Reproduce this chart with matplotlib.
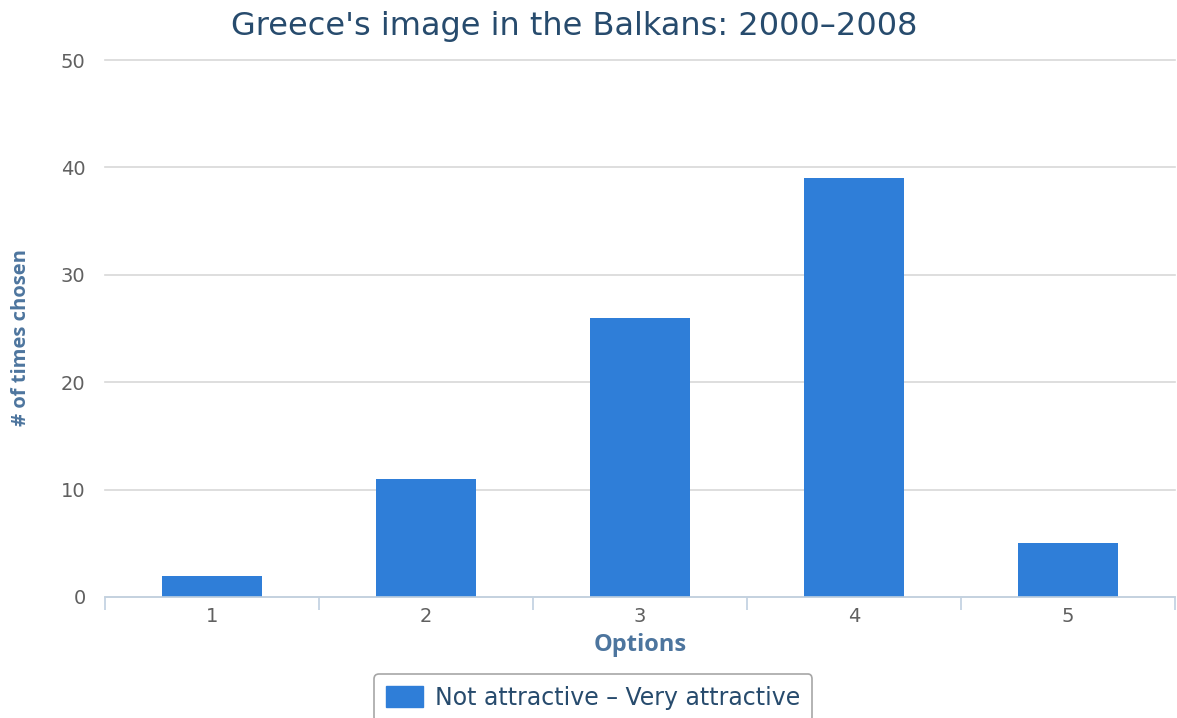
import numpy as np
import matplotlib.pyplot as plt
from matplotlib.patches import Patch

options = ['1', '2', '3', '4', '5']
counts = [2, 11, 26, 39, 5]
series_name = 'Not attractive \u2013 Very attractive'
title = "Greece's image in the Balkans: 2000\u20132008"

BAR_COLOR = '#2f7ed8'
TITLE_COLOR = '#274b6d'
LABEL_COLOR = '#4d759e'
AXIS_COLOR = '#c0d0e0'

plt.rcParams['font.family'] = ['DejaVu Sans']

fig = plt.figure(figsize=(11.77, 7.18), dpi=100)
ax = fig.add_axes([105/1177, 1 - 597/718, 1070/1177, (597 - 60)/718])

x = np.arange(len(options))
ax.bar(x, counts, width=0.465, color=BAR_COLOR, zorder=3)

ax.set_xlim(-0.5, len(options) - 0.5)
ax.set_ylim(0, 50)
ax.set_yticks(np.arange(0, 51, 10))
ax.yaxis.grid(True, color='#d8d8d8', linewidth=1.2, zorder=0)
for gl in ax.get_ygridlines():
    gl.set_clip_on(False)
ax.tick_params(axis='y', length=0, pad=14, labelsize=14, labelcolor='#606060')

# category labels sit at the centres, tick marks at the boundaries
ax.set_xticks(x)
ax.set_xticklabels(options)
ax.tick_params(axis='x', which='major', length=0, pad=7, labelsize=14, labelcolor='#606060')
ax.set_xticks(np.arange(-0.5, len(options) - 0.4, 1), minor=True)
ax.tick_params(axis='x', which='minor', length=9, width=1.2, color=AXIS_COLOR)

for side in ['top', 'right', 'left']:
    ax.spines[side].set_visible(False)
ax.spines['bottom'].set_color(AXIS_COLOR)
ax.spines['bottom'].set_linewidth(1.2)
ax.spines['bottom'].set_zorder(4)

ax.set_xlabel('Options', fontsize=17, fontweight='bold', color=LABEL_COLOR,
              labelpad=5, family=['Open Sans', 'DejaVu Sans'])
ax.set_ylabel('# of times chosen', fontsize=14.5, fontweight='bold', color=LABEL_COLOR,
              family=['Open Sans', 'DejaVu Sans'], va='center')
ax.yaxis.set_label_coords(-0.0785, 0.484)

fig.text(574/1177, 1 - 27/718, title, ha='center', va='center', fontsize=23, color=TITLE_COLOR)

leg = fig.legend(handles=[Patch(facecolor=BAR_COLOR, edgecolor=BAR_COLOR, label=series_name)],
                 loc='center', bbox_to_anchor=(593/1177, 1 - 698/718),
                 fontsize=17, frameon=True, fancybox=True, handlelength=1.6, handleheight=1.0,
                 handletextpad=0.5, borderpad=0.5, labelcolor=TITLE_COLOR)
leg.get_frame().set_edgecolor('#909090')
leg.get_frame().set_linewidth(1.2)

fig.savefig('out.png', dpi=100, facecolor='white')
